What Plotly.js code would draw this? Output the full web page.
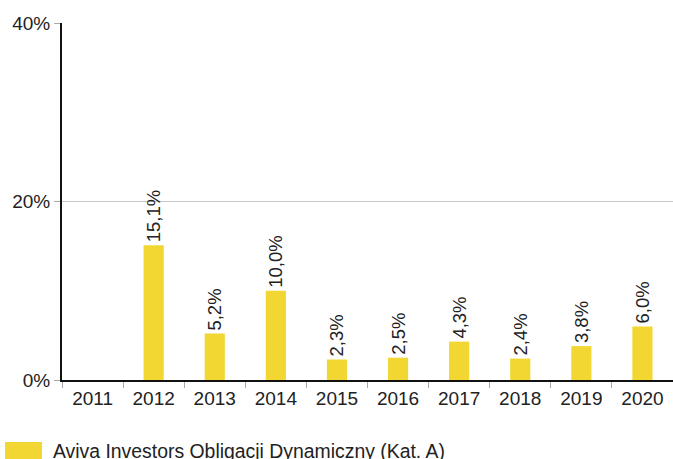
<!DOCTYPE html>
<html>
<head>
<meta charset="utf-8">
<script src="https://cdn.plot.ly/plotly-3.0.1.min.js"></script>
<style>html,body{margin:0;padding:0;background:#fff;}#chart{width:673px;height:459px;}</style>
</head>
<body>
<div id="chart"></div>
<script>
const years = ['2011','2012','2013','2014','2015','2016','2017','2018','2019','2020'];
const returns = [null, 15.1, 5.2, 10.0, 2.3, 2.5, 4.3, 2.4, 3.8, 6.0];
const seriesName = 'Aviva Investors Obligacji Dynamiczny (Kat. A)';
const yTickVals = [0, 20, 40];
const yTickText = ['0%', '20%', '40%'];

const labels = returns.map(v => v === null ? '' : v.toFixed(1).replace('.', ',') + '%');
const barColor = '#F2D733';

const trace = {
  type: 'bar',
  x: years,
  y: returns,
  name: seriesName,
  marker: {color: barColor},
  text: labels,
  textposition: 'outside',
  textangle: -90,
  constraintext: 'none',
  cliponaxis: false,
  textfont: {family: 'Liberation Sans, Arial, sans-serif', size: 18.5, color: '#222'},
  hoverinfo: 'x+y',
  showlegend: false
};

// legend drawn in paper coordinates (plot area: 611 x 357 px)
const W = 611, H = 357, L = 62, B = 380;
const px = x => (x - L) / W;
const py = y => (B - y) / H;

const layout = {
  width: 673, height: 459,
  margin: {l: 62, r: 0, t: 23, b: 79},
  paper_bgcolor: '#fff', plot_bgcolor: '#fff',
  font: {family: 'Liberation Sans, Arial, sans-serif', size: 19, color: '#222'},
  bargap: 0.67,
  xaxis: {
    type: 'category',
    showline: true, linecolor: '#111', linewidth: 2,
    ticks: 'outside', tickson: 'boundaries', ticklen: 6, tickcolor: '#aaa', tickwidth: 1,
    showgrid: false, zeroline: false,
    tickfont: {size: 19, color: '#222'},
    fixedrange: true
  },
  yaxis: {
    range: [0, 40],
    tickvals: yTickVals, ticktext: yTickText,
    showline: true, linecolor: '#111', linewidth: 2,
    ticks: 'outside', ticklen: 6, tickcolor: '#aaa', tickwidth: 1,
    showgrid: true, gridcolor: '#c8c8c8', gridwidth: 1,
    zeroline: false,
    tickfont: {size: 19, color: '#222'},
    fixedrange: true
  },
  shapes: [{
    type: 'rect', xref: 'paper', yref: 'paper',
    x0: px(5), x1: px(42), y0: py(442), y1: py(459),
    fillcolor: barColor, line: {width: 0}
  }],
  annotations: [{
    xref: 'paper', yref: 'paper',
    x: px(51), y: py(450.5),
    xanchor: 'left', yanchor: 'middle',
    text: seriesName, showarrow: false,
    font: {size: 19.4, color: '#222'}
  }]
};

Plotly.newPlot('chart', [trace], layout, {displayModeBar: false, staticPlot: true});
</script>
</body>
</html>
